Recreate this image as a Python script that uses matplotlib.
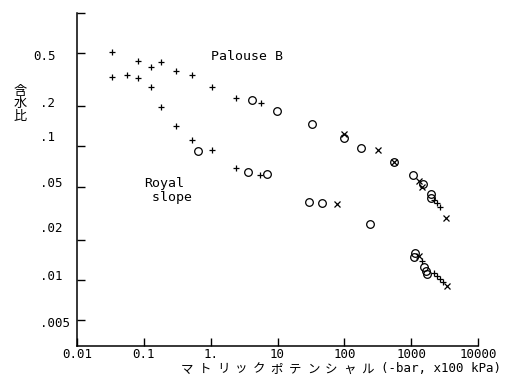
import matplotlib
matplotlib.use('Agg')
import matplotlib.pyplot as plt
from matplotlib.ticker import FixedLocator, NullLocator, NullFormatter
import matplotlib.transforms as mtransforms

# データ (マトリックポテンシャル [-bar], 含水比)
plus_x = [0.0334, 0.0334, 0.0561, 0.0818, 0.0812, 0.128, 0.127, 0.183, 0.181,
          0.307, 0.304, 0.521, 0.521, 1.06, 1.06, 2.37, 5.74, 2.37, 5.55,
          2200, 2430, 2720, 1450, 2160, 2430, 2720, 2980]
plus_y = [0.509, 0.332, 0.344, 0.436, 0.326, 0.395, 0.278, 0.433, 0.196,
          0.366, 0.142, 0.346, 0.111, 0.281, 0.0945, 0.232, 0.212, 0.0692, 0.0616,
          0.040, 0.038, 0.035, 0.0139, 0.01135, 0.0107, 0.0101, 0.0097]

circ_x = [0.655, 4.12, 9.77, 33.3, 99.3, 180, 3.59, 6.92, 30.0, 46.0, 243,
          550, 1060, 1500, 2000, 1950, 1150, 1120, 1580, 1650, 1720]
circ_y = [0.0917, 0.222, 0.184, 0.147, 0.116, 0.0971, 0.0649, 0.0623, 0.0386, 0.0379, 0.0262,
          0.077, 0.061, 0.0524, 0.044, 0.041, 0.0158, 0.0149, 0.0125, 0.0117, 0.0111]

cross_x = [99.3, 317, 77.2, 557, 1290, 1450, 3350, 1290, 3420]
cross_y = [0.123, 0.0945, 0.0371, 0.0762, 0.0555, 0.0494, 0.029, 0.0151, 0.0090]

xticks = [0.01, 0.1, 1, 10, 100, 1000, 10000]
xtick_labels = ['0.01', '0.1', '1.', '10', '100', '1000', '10000']
yticks = [1.0, 0.5, 0.2, 0.1, 0.05, 0.02, 0.01, 0.005]
ytick_labels = ['0.5', '.2', '.1', '.05', '.02', '.01', '.005']
# ラベルは目盛りから少しずれている
ytick_label_pos = [0.475, 0.211, 0.117, 0.0527, 0.0242, 0.0107, 0.00475]

xlabel_jp = 'マトリックポテンシャル'
xlabel_unit = '(-bar, x100 kPa)'

mono = 'DejaVu Sans Mono'
jpfont = 'Noto Sans CJK JP'

fig = plt.figure(figsize=(5.05, 3.78), dpi=100)
ax = fig.add_axes([77 / 505, 1 - 346 / 378, 401 / 505, 333 / 378])

ax.plot(plus_x, plus_y, '+', color='black', markersize=4.5, markeredgewidth=0.9)
ax.plot(circ_x, circ_y, 'o', mfc='none', mec='black', markersize=5.5, markeredgewidth=0.9)
ax.plot(cross_x, cross_y, 'x', color='black', markersize=4.5, markeredgewidth=0.9)

ax.set_xscale('log')
ax.set_yscale('log')
ax.set_xlim(0.01, 10000)
ax.set_ylim(0.0032, 1.0)

ax.xaxis.set_major_locator(FixedLocator(xticks))
ax.set_xticklabels(xtick_labels, fontfamily=mono, fontsize=9)
ax.xaxis.set_minor_locator(NullLocator())
ax.yaxis.set_major_locator(FixedLocator(yticks))
ax.yaxis.set_major_formatter(NullFormatter())
ax.yaxis.set_minor_locator(NullLocator())
ax.yaxis.set_minor_formatter(NullFormatter())

ax.tick_params(direction='in', length=6, width=1, pad=1.5)
for s in ['top', 'right']:
    ax.spines[s].set_visible(False)
for s in ['left', 'bottom']:
    ax.spines[s].set_linewidth(1.1)

trans = mtransforms.blended_transform_factory(fig.transFigure, ax.transData)
for lab, pos in zip(ytick_labels, ytick_label_pos):
    xl = 33 / 505 if lab.startswith('0') else 40 / 505
    ax.text(xl, pos, lab, transform=trans, ha='left', va='center',
            fontfamily=mono, fontsize=9)

ax.text(1.0, 0.475, 'Palouse B', fontfamily=mono, fontsize=9.5, ha='left', va='center')
ax.text(0.1, 0.047, 'Royal\n slope', fontfamily=mono, fontsize=9.5, ha='left', va='center',
        linespacing=1.1)

fig.text(20 / 505, 1 - 104 / 378, '含\n水\n比', fontfamily=jpfont,
         fontsize=9.5, ha='center', va='center', linespacing=0.95)

# x軸ラベル: 文字間隔を広くとって一文字ずつ配置
for i, ch in enumerate(xlabel_jp):
    fig.text((187 + i * 18) / 505, 1 - 369 / 378, ch, fontfamily=jpfont,
             fontsize=9, ha='center', va='center')
fig.text(381 / 505, 1 - 369 / 378, xlabel_unit, fontfamily=mono,
         fontsize=9, ha='left', va='center')

fig.savefig('out.png', dpi=100)
